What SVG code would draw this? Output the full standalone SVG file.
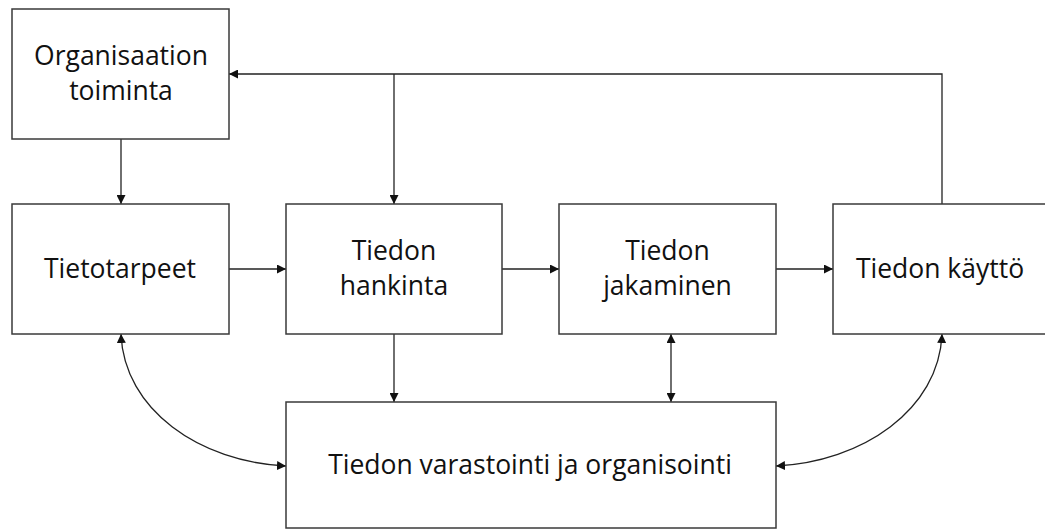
<svg xmlns="http://www.w3.org/2000/svg" width="1045" height="530" viewBox="0 0 1045 530">
  <style>
    .box { fill: #ffffff; stroke: #3a3a3a; stroke-width: 1.5; }
    .lbl { font-family: "Open Sans", "Noto Sans", sans-serif; font-size: 26.5px; fill: #111111; text-anchor: middle; }
    .wire { fill: none; stroke: #222222; stroke-width: 1.3; }
  </style>
  <defs>
    <marker id="tip" viewBox="0 0 10 10" refX="10" refY="5" markerWidth="9" markerHeight="9" markerUnits="userSpaceOnUse" orient="auto-start-reverse">
      <path d="M0,0 L10,5 L0,10 z" fill="#111111"/>
    </marker>
  </defs>
  <rect width="1045" height="530" fill="#ffffff"/>

  <g id="connectors">
    <!-- feedback loop from Tiedon käyttö back to the organisation -->
    <polyline class="wire" points="942,204 942,74 229,74" marker-end="url(#tip)"/>
    <line class="wire" x1="394" y1="74" x2="394" y2="204" marker-end="url(#tip)"/>
    <line class="wire" x1="121" y1="139" x2="121" y2="204" marker-end="url(#tip)"/>
    <!-- main chain -->
    <line class="wire" x1="229" y1="269" x2="286" y2="269" marker-end="url(#tip)"/>
    <line class="wire" x1="502" y1="269" x2="559" y2="269" marker-end="url(#tip)"/>
    <line class="wire" x1="776" y1="269" x2="833" y2="269" marker-end="url(#tip)"/>
    <!-- links to storage -->
    <line class="wire" x1="394" y1="334" x2="394" y2="402" marker-end="url(#tip)"/>
    <line class="wire" x1="671" y1="334" x2="671" y2="402" marker-start="url(#tip)" marker-end="url(#tip)"/>
    <path class="wire" d="M121,334 C124,410 200,462 286,466" marker-start="url(#tip)" marker-end="url(#tip)"/>
    <path class="wire" d="M942,334 C939,410 862,462 776,466" marker-start="url(#tip)" marker-end="url(#tip)"/>
  </g>

  <g id="organisaation-toiminta">
    <rect class="box" x="12" y="9" width="217" height="130"/>
    <text class="lbl" x="121" y="65">Organisaation</text>
    <text class="lbl" x="121" y="100">toiminta</text>
  </g>
  <g id="tietotarpeet">
    <rect class="box" x="12" y="204" width="217" height="130"/>
    <text class="lbl" x="120" y="278">Tietotarpeet</text>
  </g>
  <g id="tiedon-hankinta">
    <rect class="box" x="286" y="204" width="216" height="130"/>
    <text class="lbl" x="394" y="260">Tiedon</text>
    <text class="lbl" x="394" y="295">hankinta</text>
  </g>
  <g id="tiedon-jakaminen">
    <rect class="box" x="559" y="204" width="217" height="130"/>
    <text class="lbl" x="667.5" y="260">Tiedon</text>
    <text class="lbl" x="667.5" y="295">jakaminen</text>
  </g>
  <g id="tiedon-kaytto">
    <rect class="box" x="833" y="204" width="217" height="130"/>
    <text class="lbl" x="940" y="278">Tiedon käyttö</text>
  </g>
  <g id="tiedon-varastointi">
    <rect class="box" x="286" y="402" width="490" height="126"/>
    <text class="lbl" x="530" y="474">Tiedon varastointi ja organisointi</text>
  </g>
</svg>
